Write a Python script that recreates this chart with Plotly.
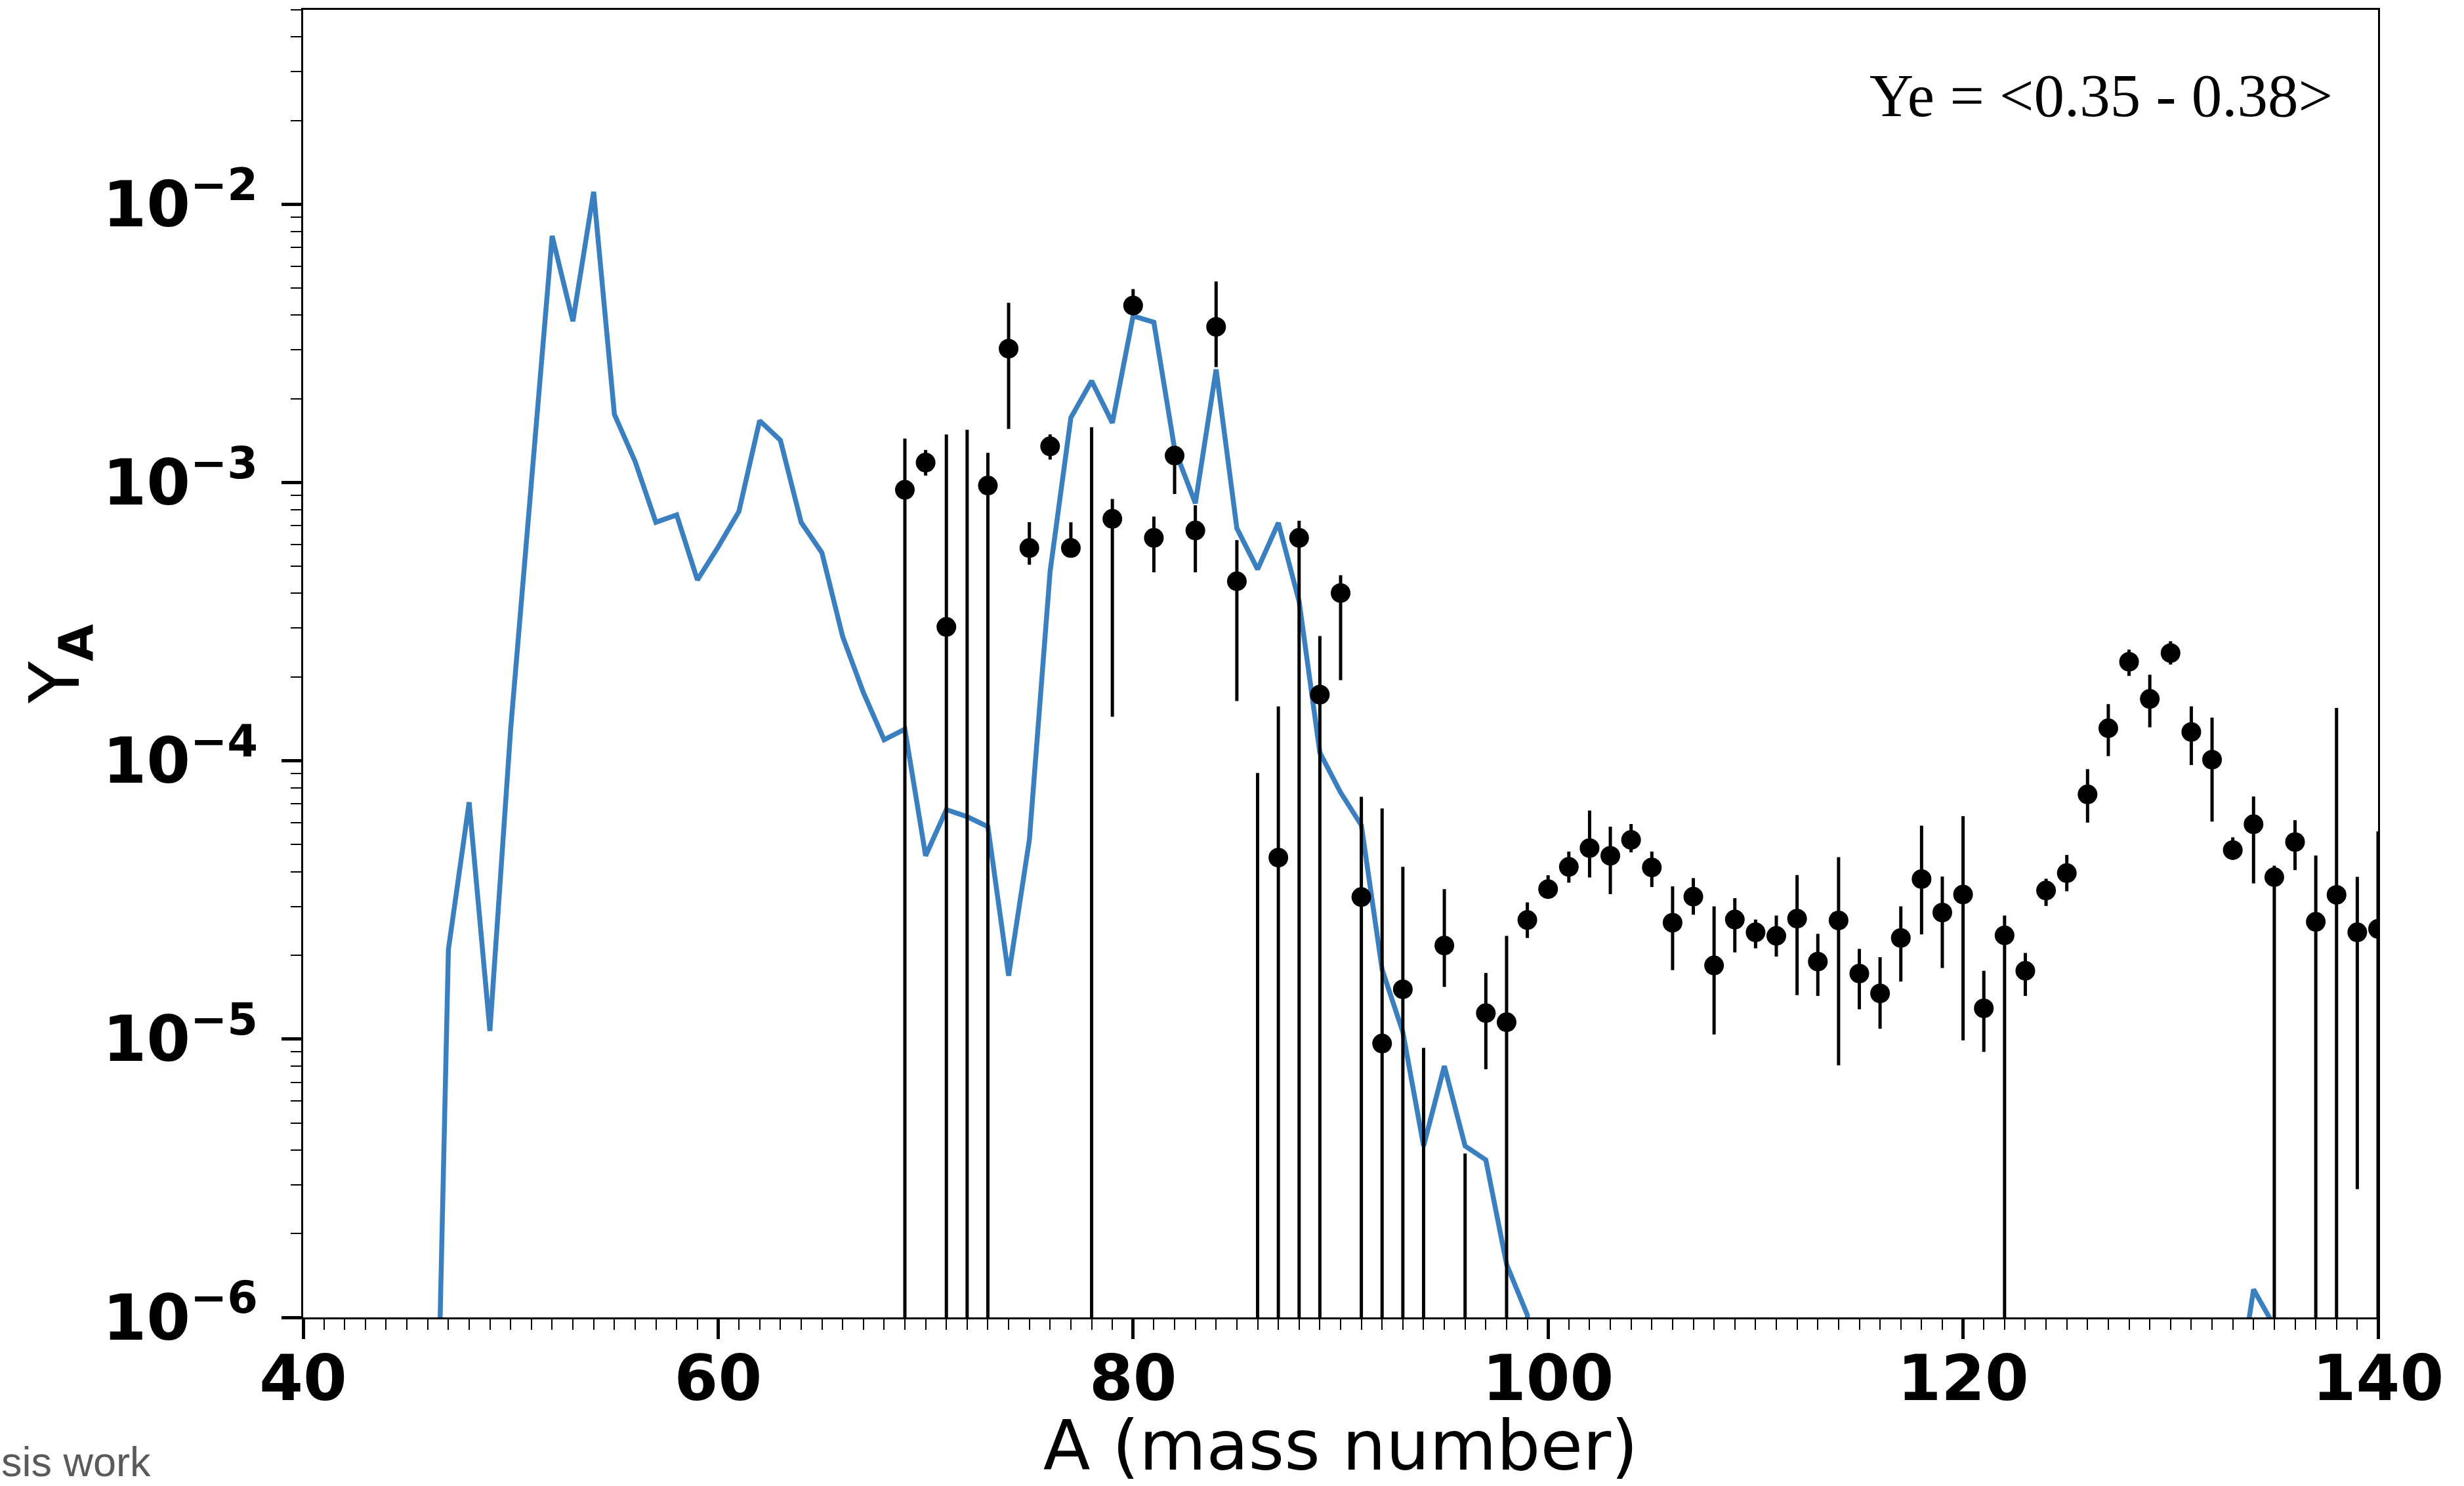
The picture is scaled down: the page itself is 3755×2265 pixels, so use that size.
import plotly.graph_objects as go

# ---- model curve: abundance Y_A vs mass number A ----
line_A = list(range(46, 101)) + [None] + [133, 134, 135]
line_Y = [
    1.0e-8, 2.1e-5, 7.1e-5, 1.07e-5, 1.3e-4, 1.05e-3, 7.7e-3, 3.8e-3, 1.11e-2, 1.76e-3,   # 46-55
    1.19e-3, 7.2e-4, 7.65e-4, 4.47e-4, 5.87e-4, 7.87e-4, 1.67e-3, 1.42e-3, 7.2e-4, 5.6e-4,  # 56-65
    2.8e-4, 1.76e-4, 1.19e-4, 1.30e-4, 4.56e-5, 6.68e-5, 6.3e-5, 5.8e-5, 1.69e-5, 5.2e-5,  # 66-75
    4.8e-4, 1.71e-3, 2.32e-3, 1.64e-3, 3.97e-3, 3.77e-3, 1.32e-3, 8.43e-4, 2.55e-3, 6.85e-4,  # 76-85
    4.88e-4, 7.17e-4, 3.74e-4, 1.07e-4, 7.7e-5, 5.87e-5, 1.78e-5, 1.06e-5, 4.13e-6, 8.0e-6,  # 86-95
    4.13e-6, 3.68e-6, 1.55e-6, 1.02e-6, 1.0e-9,                                             # 96-100
    None,
    4.1e-7, 1.26e-6, 9.3e-7,                                                                # 133-135
]

# ---- measured abundances with asymmetric uncertainties ----
# values below 1e-6 lie under the axis; a lower bound of 0 means the bar runs off the bottom
obs_A = list(range(69, 141))
obs_Y = [
    9.42e-4, 1.18e-3, 3.03e-4, 3.0e-7, 9.76e-4, 3.03e-3, 5.82e-4, 1.35e-3, 5.82e-4, 3.0e-7,  # 69-78
    7.41e-4, 4.33e-3, 6.33e-4, 1.25e-3, 6.73e-4, 3.63e-3, 4.42e-4, 3.0e-7, 4.49e-5, 6.33e-4,  # 79-88
    1.73e-4, 4.01e-4, 3.24e-5, 9.64e-6, 1.51e-5, 3.0e-7, 2.17e-5, 3.0e-7, 1.24e-5, 1.15e-5,  # 89-98
    2.68e-5, 3.46e-5, 4.16e-5, 4.86e-5, 4.56e-5, 5.2e-5, 4.14e-5, 2.62e-5, 3.25e-5, 1.84e-5,  # 99-108
    2.69e-5, 2.42e-5, 2.35e-5, 2.71e-5, 1.90e-5, 2.67e-5, 1.72e-5, 1.46e-5, 2.31e-5, 3.76e-5,  # 109-118
    2.85e-5, 3.31e-5, 1.29e-5, 2.36e-5, 1.76e-5, 3.42e-5, 3.95e-5, 7.58e-5, 1.31e-4, 2.27e-4,  # 119-128
    1.67e-4, 2.44e-4, 1.27e-4, 1.01e-4, 4.78e-5, 5.92e-5, 3.82e-5, 5.11e-5, 2.64e-5, 3.3e-5,   # 129-138
    2.42e-5, 2.49e-5,                                                                          # 139-140
]
obs_hi = [
    1.44e-3, 1.31e-3, 1.49e-3, 1.55e-3, 1.28e-3, 4.43e-3, 7.21e-4, 1.49e-3, 7.2e-4, 1.58e-3,
    8.73e-4, 4.96e-3, 7.55e-4, 1.3e-3, 8.29e-4, 5.28e-3, 6.21e-4, 9.04e-5, 1.57e-4, 7.29e-4,
    2.81e-4, 4.65e-4, 7.43e-5, 6.75e-5, 4.16e-5, 9.3e-6, 3.46e-5, 3.88e-6, 1.73e-5, 2.35e-5,
    3.1e-5, 3.88e-5, 4.72e-5, 6.63e-5, 5.8e-5, 5.93e-5, 4.72e-5, 3.54e-5, 3.79e-5, 3.0e-5,
    3.21e-5, 2.69e-5, 2.78e-5, 3.89e-5, 2.39e-5, 4.51e-5, 2.11e-5, 1.97e-5, 3.0e-5, 5.85e-5,
    3.84e-5, 6.33e-5, 1.76e-5, 2.78e-5, 2.04e-5, 3.77e-5, 4.59e-5, 9.34e-5, 1.60e-4, 2.51e-4,
    2.04e-4, 2.69e-4, 1.57e-4, 1.43e-4, 5.31e-5, 7.45e-5, 4.2e-5, 6.12e-5, 4.57e-5, 1.55e-4,
    3.83e-5, 5.58e-5,
]
obs_lo = [
    0, 1.06e-3, 0, 0, 0, 1.56e-3, 5.07e-4, 1.21e-3, 5.5e-4, 0,
    1.44e-4, 4.0e-3, 4.76e-4, 9.1e-4, 4.76e-4, 2.6e-3, 1.64e-4, 0, 0, 0,
    0, 1.95e-4, 0, 0, 0, 0, 1.54e-5, 0, 7.8e-6, 0,
    2.31e-5, 3.2e-5, 3.65e-5, 3.81e-5, 3.32e-5, 4.69e-5, 3.52e-5, 1.77e-5, 2.8e-5, 1.04e-5,
    2.05e-5, 2.12e-5, 1.98e-5, 1.44e-5, 1.43e-5, 8.05e-6, 1.28e-5, 1.09e-5, 1.61e-5, 2.38e-5,
    1.8e-5, 9.9e-6, 9.0e-6, 0, 1.43e-5, 3.01e-5, 3.4e-5, 6.0e-5, 1.04e-4, 2.02e-4,
    1.32e-4, 2.22e-4, 9.66e-5, 6.05e-5, 4.41e-5, 3.63e-5, 0, 4.05e-5, 0, 0,
    2.89e-6, 0,
]

x_ticks = [40, 60, 80, 100, 120, 140]
y_ticks = [1e-6, 1e-5, 1e-4, 1e-3, 1e-2]
y_tick_text = ["10<sup>\u2212%d</sup>" % p for p in (6, 5, 4, 3, 2)]

err_plus = [h - y for h, y in zip(obs_hi, obs_Y)]
err_minus = [y - l for y, l in zip(obs_Y, obs_lo)]

BLUE = "#3a7fbf"
TICK_FONT = dict(family="DejaVu Sans", size=96, color="black", weight="bold")

fig = go.Figure()

fig.add_trace(go.Scatter(
    x=line_A, y=line_Y, mode="lines", connectgaps=False,
    line=dict(color=BLUE, width=7.5),
    showlegend=False,
))

fig.add_trace(go.Scatter(
    x=obs_A, y=obs_Y, mode="markers",
    marker=dict(color="black", size=30, line=dict(width=0)),
    error_y=dict(type="data", symmetric=False, array=err_plus, arrayminus=err_minus,
                 color="black", thickness=5, width=0),
    showlegend=False,
))

fig.add_annotation(
    text="Ye = &lt;0.35 - 0.38&gt;", xref="paper", yref="paper",
    x=0.9788, y=0.9345, xanchor="right", yanchor="middle", showarrow=False,
    font=dict(family="Liberation Serif", size=93, color="black"),
)

fig.add_annotation(
    text="sis work", xref="paper", yref="paper",
    x=-0.1460, y=-0.1104, xanchor="left", yanchor="middle", showarrow=False,
    font=dict(family="Liberation Sans", size=63, color="#5a5a5a"),
)

fig.update_layout(
    width=3755, height=2265,
    margin=dict(l=462, r=131, t=15, b=257, autoexpand=False),
    paper_bgcolor="white", plot_bgcolor="white",
    showlegend=False,
)

fig.update_xaxes(
    range=[40, 140], tickmode="array", tickvals=x_ticks, automargin=False,
    ticks="outside", ticklen=30, tickwidth=5, tickcolor="black",
    ticklabelstandoff=-22,
    showline=True, linewidth=2.5, linecolor="black", mirror=True,
    showgrid=False, zeroline=False,
    tickfont=TICK_FONT,
    minor=dict(dtick=1, ticks="outside", ticklen=16, tickwidth=2, tickcolor="black", showgrid=False),
    title=dict(text="A (mass number)", standoff=44,
               font=dict(family="DejaVu Sans", size=105, color="black")),
)

fig.update_yaxes(
    type="log", range=[-6, -1.301], tickmode="array", tickvals=y_ticks, ticktext=y_tick_text,
    automargin=False,
    ticks="outside", ticklen=30, tickwidth=5, tickcolor="black",
    ticklabelstandoff=17,
    showline=True, linewidth=2.5, linecolor="black", mirror=True,
    showgrid=False, zeroline=False,
    tickfont=TICK_FONT,
    minor=dict(dtick="D1", ticks="outside", ticklen=16, tickwidth=2, tickcolor="black", showgrid=False),
    title=dict(text="Y<sub><b>A</b></sub>", standoff=1,
               font=dict(family="DejaVu Sans", size=105, color="black")),
)

fig.write_html("out.html")
